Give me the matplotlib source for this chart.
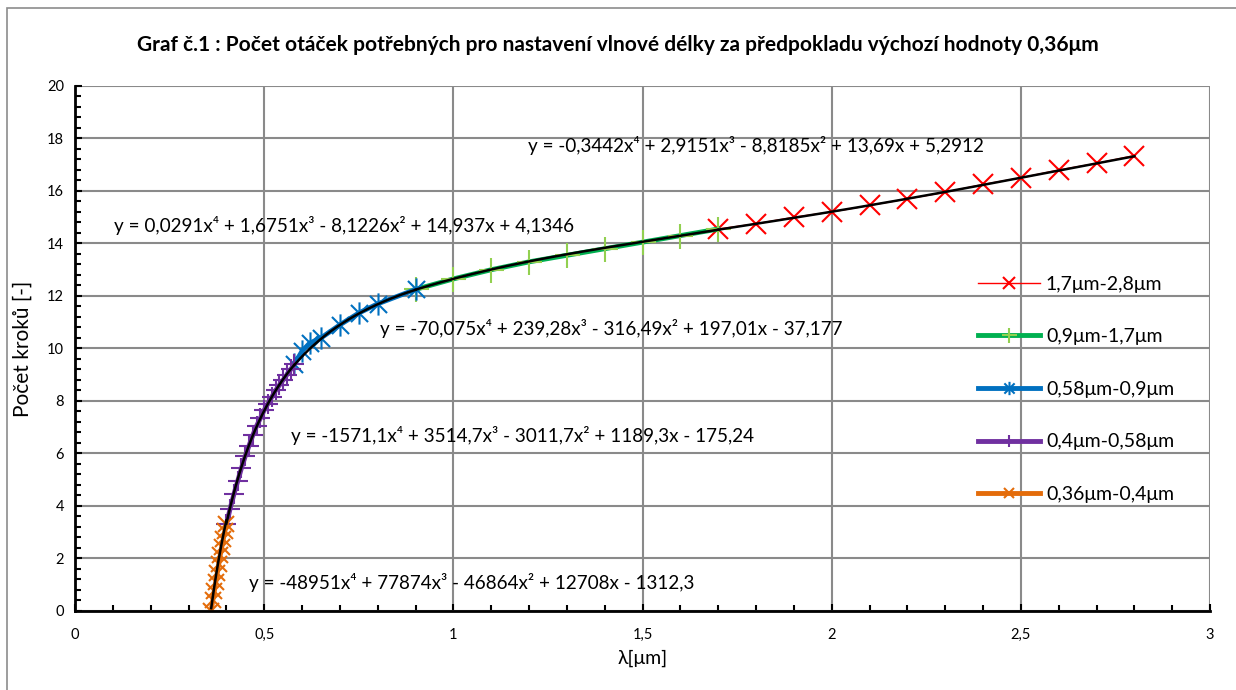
import matplotlib
matplotlib.use("Agg")
import matplotlib.pyplot as plt
import numpy as np
from matplotlib.path import Path
from matplotlib.patches import Rectangle
from matplotlib.ticker import MultipleLocator, FuncFormatter

plt.rcParams['font.family'] = ['Lato', 'DejaVu Sans']

# measured points for each wavelength range
x_orange = [0.36, 0.364, 0.368, 0.372, 0.376, 0.38, 0.384, 0.388, 0.392, 0.396, 0.40]
y_orange = [0.0, 0.4, 0.75, 1.1, 1.45, 1.8, 2.15, 2.45, 2.75, 3.05, 3.3]

x_purple = [0.40, 0.41, 0.42, 0.43, 0.44, 0.45, 0.46, 0.47, 0.48, 0.49,
            0.50, 0.51, 0.52, 0.53, 0.54, 0.55, 0.56, 0.57, 0.58]
y_purple = [3.3, 3.9, 4.45, 4.95, 5.45, 5.9, 6.3, 6.7, 7.05, 7.35,
            7.65, 7.9, 8.15, 8.4, 8.6, 8.8, 9.0, 9.2, 9.4]

x_blue = [0.58, 0.60, 0.62, 0.65, 0.70, 0.75, 0.80, 0.90]
y_blue = [9.4, 9.9, 10.2, 10.4, 10.9, 11.35, 11.7, 12.25]

x_green = [0.9, 1.0, 1.1, 1.2, 1.3, 1.4, 1.5, 1.6, 1.7]
y_green = [12.25, 12.65, 13.0, 13.3, 13.55, 13.8, 14.05, 14.3, 14.55]

x_red = [1.7, 1.8, 1.9, 2.0, 2.1, 2.2, 2.3, 2.4, 2.5, 2.6, 2.7, 2.8]
y_red = [14.55, 14.75, 15.0, 15.2, 15.45, 15.7, 15.95, 16.25, 16.5, 16.8, 17.05, 17.35]

# trendline coefficients as printed on the chart (x^4 ... x^0)
coef_red = [-0.3442, 2.9151, -8.8185, 13.69, 5.2912]
coef_green = [0.0291, 1.6751, -8.1226, 14.937, 4.1346]
coef_blue = [-70.075, 239.28, -316.49, 197.01, -37.177]
coef_purple = [-1571.1, 3514.7, -3011.7, 1189.3, -175.24]
coef_orange = [-48951, 77874, -46864, 12708, -1312.3]

eq_red = "y = -0,3442x⁴ + 2,9151x³ - 8,8185x² + 13,69x + 5,2912"
eq_green = "y = 0,0291x⁴ + 1,6751x³ - 8,1226x² + 14,937x + 4,1346"
eq_blue = "y = -70,075x⁴ + 239,28x³ - 316,49x² + 197,01x - 37,177"
eq_purple = "y = -1571,1x⁴ + 3514,7x³ - 3011,7x² + 1189,3x - 175,24"
eq_orange = "y = -48951x⁴ + 77874x³ - 46864x² + 12708x - 1312,3"

# Excel-like star marker: x with vertical stroke
star = Path([(-1, -1), (1, 1), (-1, 1), (1, -1), (0, -1.3), (0, 1.3)],
            [Path.MOVETO, Path.LINETO, Path.MOVETO, Path.LINETO, Path.MOVETO, Path.LINETO])

fig = plt.figure(figsize=(12.36, 6.9), dpi=100)
fig.patches.append(Rectangle((0.006, -0.01), 1.2, 0.998, transform=fig.transFigure,
                             fill=False, edgecolor='#8c8c8c', linewidth=1.2))
ax = fig.add_axes([0.0607, 0.1145, 0.9183, 0.7609])

ax.plot(x_red, y_red, color='#FF0000', lw=1.0, marker='x', ms=15, mew=1.5,
        label='1,7μm-2,8μm')
ax.plot(x_green, y_green, color='#00B050', lw=3.5, marker='+', ms=18, mew=1.5,
        mec='#92D050', label='0,9μm-1,7μm')
ax.plot(x_blue, y_blue, color='#0070C0', lw=3.5, marker=star, ms=16, mew=1.5,
        label='0,58μm-0,9μm')
ax.plot(x_purple, y_purple, color='#7030A0', lw=3.5, marker='+', ms=14, mew=1.5,
        label='0,4μm-0,58μm')
ax.plot(x_orange, y_orange, color='#E46C0A', lw=3.5, marker='x', ms=12, mew=1.5,
        label='0,36μm-0,4μm')

segments = [(x_red, coef_red), (x_green, coef_green), (x_blue, coef_blue),
            (x_purple, coef_purple), (x_orange, coef_orange)]
for xs, coef in segments:
    xx = np.linspace(xs[0], xs[-1], 200)
    ax.plot(xx, np.polyval(coef, xx), color='black', lw=1.8, zorder=5)

txt = dict(fontsize=13.6, va='center', ha='left')
ax.text(1.196, 17.75, eq_red, **txt)
ax.text(0.103, 14.67, eq_green, **txt)
ax.text(0.807, 10.78, eq_blue, **txt)
ax.text(0.571, 6.67, eq_purple, **txt)
ax.text(0.46, 1.07, eq_orange, **txt)

ax.set_xlim(0, 3)
ax.set_ylim(0, 20)
ax.xaxis.set_major_locator(MultipleLocator(0.5))
ax.xaxis.set_minor_locator(MultipleLocator(0.1))
ax.yaxis.set_major_locator(MultipleLocator(2))
ax.yaxis.set_minor_locator(MultipleLocator(0.4))
ax.xaxis.set_major_formatter(FuncFormatter(lambda v, p: f'{v:g}'.replace('.', ',')))
ax.tick_params(which='both', direction='in', labelsize=10.5, width=1.5)
ax.tick_params(which='major', length=5)
ax.tick_params(which='minor', length=4)
ax.tick_params(axis='x', pad=12)
ax.tick_params(axis='y', pad=8)
ax.grid(True, which='major', color='#8a8a8a', lw=1.5)
ax.set_axisbelow(True)
for s in ['top', 'right']:
    ax.spines[s].set_visible(False)
for s in ['left', 'bottom']:
    ax.spines[s].set_linewidth(2)

ax.set_xlabel('λ[μm]', fontsize=14, labelpad=6)
ax.set_ylabel('Počet kroků [-]', fontsize=15, labelpad=10)
fig.text(0.5, 0.935,
         'Graf č.1 : Počet otáček potřebných pro nastavení vlnové délky za předpokladu výchozí hodnoty 0,36μm',
         fontsize=15, fontweight='bold', ha='center', va='center')

ax.legend(loc='upper left', bbox_to_anchor=(0.78, 0.672), frameon=False, fontsize=14,
          handlelength=3.2, labelspacing=1.83, handletextpad=0.3, markerscale=0.6)

fig.savefig('out.png', dpi=100)
